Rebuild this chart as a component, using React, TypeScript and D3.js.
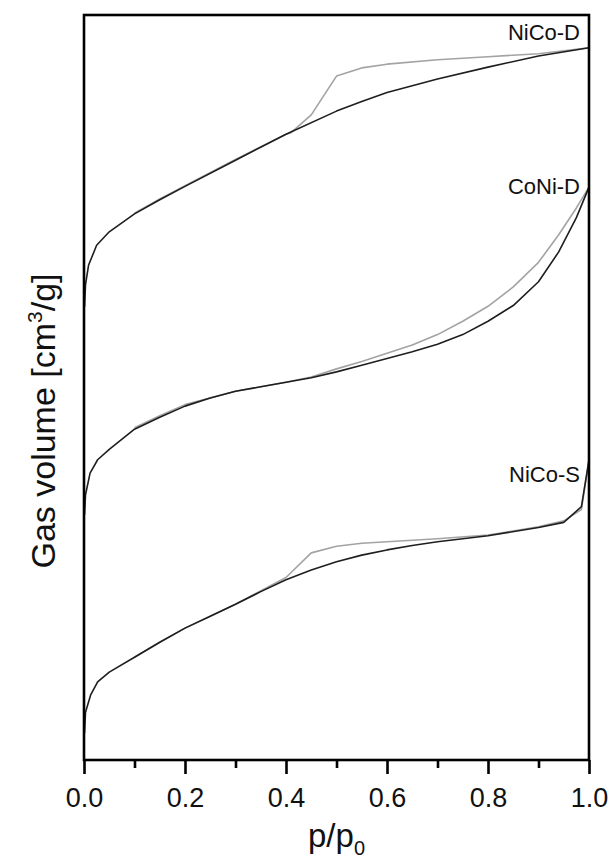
import React, { useEffect, useRef } from "react";
import * as d3 from "d3";

// relative pressure p/p0 and gas volume (arbitrary, offset per sample)
type Pt = [number, number];

const nicoDAds: Pt[] = [
  [0.001, 60.8], [0.003, 63.8], [0.009, 66.4], [0.025, 69.1], [0.05, 70.9],
  [0.1, 73.3], [0.15, 75.2], [0.2, 77.0], [0.3, 80.5], [0.4, 84.0],
  [0.5, 87.1], [0.55, 88.4], [0.6, 89.6], [0.7, 91.4], [0.8, 93.0],
  [0.9, 94.5], [1.0, 95.6],
];
const nicoDDes: Pt[] = [
  [1.0, 95.6], [0.95, 95.2], [0.9, 94.8], [0.8, 94.4], [0.7, 94.0],
  [0.6, 93.4], [0.55, 92.9], [0.5, 91.8], [0.45, 86.6], [0.41, 84.2],
  [0.4, 84.0], [0.3, 80.6], [0.2, 77.1], [0.15, 75.3], [0.1, 73.4],
];

const coniDAds: Pt[] = [
  [0.001, 32.9], [0.003, 35.6], [0.012, 38.5], [0.027, 40.3], [0.05, 41.7],
  [0.1, 44.4], [0.15, 46.0], [0.2, 47.5], [0.25, 48.6], [0.3, 49.5],
  [0.35, 50.1], [0.4, 50.7], [0.45, 51.3], [0.5, 52.1], [0.55, 53.0],
  [0.6, 53.9], [0.65, 54.8], [0.7, 55.8], [0.75, 57.1], [0.8, 58.9],
  [0.85, 61.0], [0.9, 64.2], [0.94, 68.2], [0.975, 72.8], [1.0, 76.9],
];
const coniDDes: Pt[] = [
  [1.0, 76.9], [0.975, 74.1], [0.94, 70.5], [0.9, 66.8], [0.85, 63.5],
  [0.8, 60.9], [0.75, 58.9], [0.7, 57.1], [0.65, 55.7], [0.6, 54.6],
  [0.55, 53.5], [0.5, 52.5], [0.45, 51.4], [0.4, 50.7], [0.3, 49.5],
  [0.2, 47.7], [0.15, 46.2], [0.1, 44.6],
];

const nicoSAds: Pt[] = [
  [0.001, 3.6], [0.003, 6.4], [0.013, 8.7], [0.027, 10.5], [0.05, 11.8],
  [0.1, 13.8], [0.15, 15.8], [0.2, 17.7], [0.25, 19.3], [0.3, 20.9],
  [0.35, 22.6], [0.4, 24.2], [0.45, 25.5], [0.5, 26.6], [0.55, 27.5],
  [0.6, 28.2], [0.65, 28.8], [0.7, 29.3], [0.8, 30.1], [0.9, 31.2],
  [0.95, 31.9], [0.985, 34.0], [1.0, 40.3],
];
const nicoSDes: Pt[] = [
  [1.0, 40.3], [0.985, 33.6], [0.95, 32.1], [0.9, 31.3], [0.8, 30.2],
  [0.7, 29.7], [0.6, 29.3], [0.55, 29.1], [0.5, 28.7], [0.45, 27.8],
  [0.4, 24.5], [0.3, 20.9], [0.2, 17.7], [0.15, 15.8], [0.1, 13.8],
];

const samples = [
  { name: "NiCo-D", ads: nicoDAds, des: nicoDDes, labelY: 96.6 },
  { name: "CoNi-D", ads: coniDAds, des: coniDDes, labelY: 76.0 },
  { name: "NiCo-S", ads: nicoSAds, des: nicoSDes, labelY: 37.3 },
];

const majorTicks = [0, 0.2, 0.4, 0.6, 0.8, 1.0];
const minorTicks = [0.1, 0.3, 0.5, 0.7, 0.9];

const FONT = "'Liberation Sans', Arial, Helvetica, sans-serif";

const App: React.FC = () => {
  const svgRef = useRef<SVGSVGElement | null>(null);
  const width = 610;
  const height = 859;

  useEffect(() => {
    document.body.style.margin = "0";
    const margin = { top: 15, right: 21, bottom: 99, left: 84 };
    const innerW = width - margin.left - margin.right;
    const innerH = height - margin.top - margin.bottom;

    const svg = d3.select(svgRef.current);
    svg.selectAll("*").remove();

    const chart = svg
      .append("g")
      .attr("transform", `translate(${margin.left}, ${margin.top})`);

    const x = d3.scaleLinear().domain([0, 1]).range([0, innerW]);
    const y = d3.scaleLinear().domain([0, 100]).range([innerH, 0]);

    const line = d3
      .line<Pt>()
      .x((d) => x(d[0]))
      .y((d) => y(d[1]));

    // desorption branches (grey) under adsorption (black)
    samples.forEach((s) => {
      chart
        .append("path")
        .attr("d", line(s.des))
        .attr("fill", "none")
        .attr("stroke", "#a3a3a3")
        .attr("stroke-width", 1.6)
        .attr("stroke-linejoin", "round");
    });
    samples.forEach((s) => {
      chart
        .append("path")
        .attr("d", line(s.ads))
        .attr("fill", "none")
        .attr("stroke", "#1e1e1e")
        .attr("stroke-width", 1.6)
        .attr("stroke-linejoin", "round");
    });

    // sample labels
    samples.forEach((s) => {
      chart
        .append("text")
        .attr("x", x(1) - 9)
        .attr("y", y(s.labelY))
        .attr("text-anchor", "end")
        .attr("font-family", FONT)
        .attr("font-size", 22)
        .attr("fill", "#111")
        .text(s.name);
    });

    // frame
    chart
      .append("rect")
      .attr("x", 0)
      .attr("y", 0)
      .attr("width", innerW)
      .attr("height", innerH)
      .attr("fill", "none")
      .attr("stroke", "#000")
      .attr("stroke-width", 2.6);

    // x axis ticks
    const major = chart
      .append("g")
      .attr("transform", `translate(0, ${innerH})`)
      .call(
        d3
          .axisBottom(x)
          .tickValues(majorTicks)
          .tickSize(14)
          .tickPadding(14)
          .tickFormat(d3.format(".1f") as any)
      );
    major.select(".domain").remove();
    major.selectAll("line").attr("stroke", "#000").attr("stroke-width", 2.6);
    major
      .selectAll("text")
      .attr("font-family", FONT)
      .attr("font-size", 27)
      .attr("fill", "#111");

    const minor = chart
      .append("g")
      .attr("transform", `translate(0, ${innerH})`)
      .call(d3.axisBottom(x).tickValues(minorTicks).tickSize(8).tickFormat(() => ""));
    minor.select(".domain").remove();
    minor.selectAll("line").attr("stroke", "#000").attr("stroke-width", 2.6);

    // x label
    const xl = svg
      .append("text")
      .attr("x", margin.left + innerW / 2)
      .attr("y", 847)
      .attr("text-anchor", "middle")
      .attr("font-family", FONT)
      .attr("font-size", 33)
      .attr("fill", "#111");
    xl.append("tspan").text("p/p");
    xl.append("tspan").attr("font-size", 20).attr("dy", 8).text("0");

    // y label
    const yl = svg
      .append("text")
      .attr("transform", `translate(55, 421) rotate(-90)`)
      .attr("text-anchor", "middle")
      .attr("font-family", FONT)
      .attr("font-size", 34)
      .attr("fill", "#111");
    yl.append("tspan").text("Gas volume [cm");
    yl.append("tspan").attr("font-size", 21).attr("dy", -13).text("3");
    yl.append("tspan").attr("dy", 13).text("/g]");
  }, []);

  return <svg ref={svgRef} width={width} height={height} style={{ display: "block" }} />;
};

export default App;
